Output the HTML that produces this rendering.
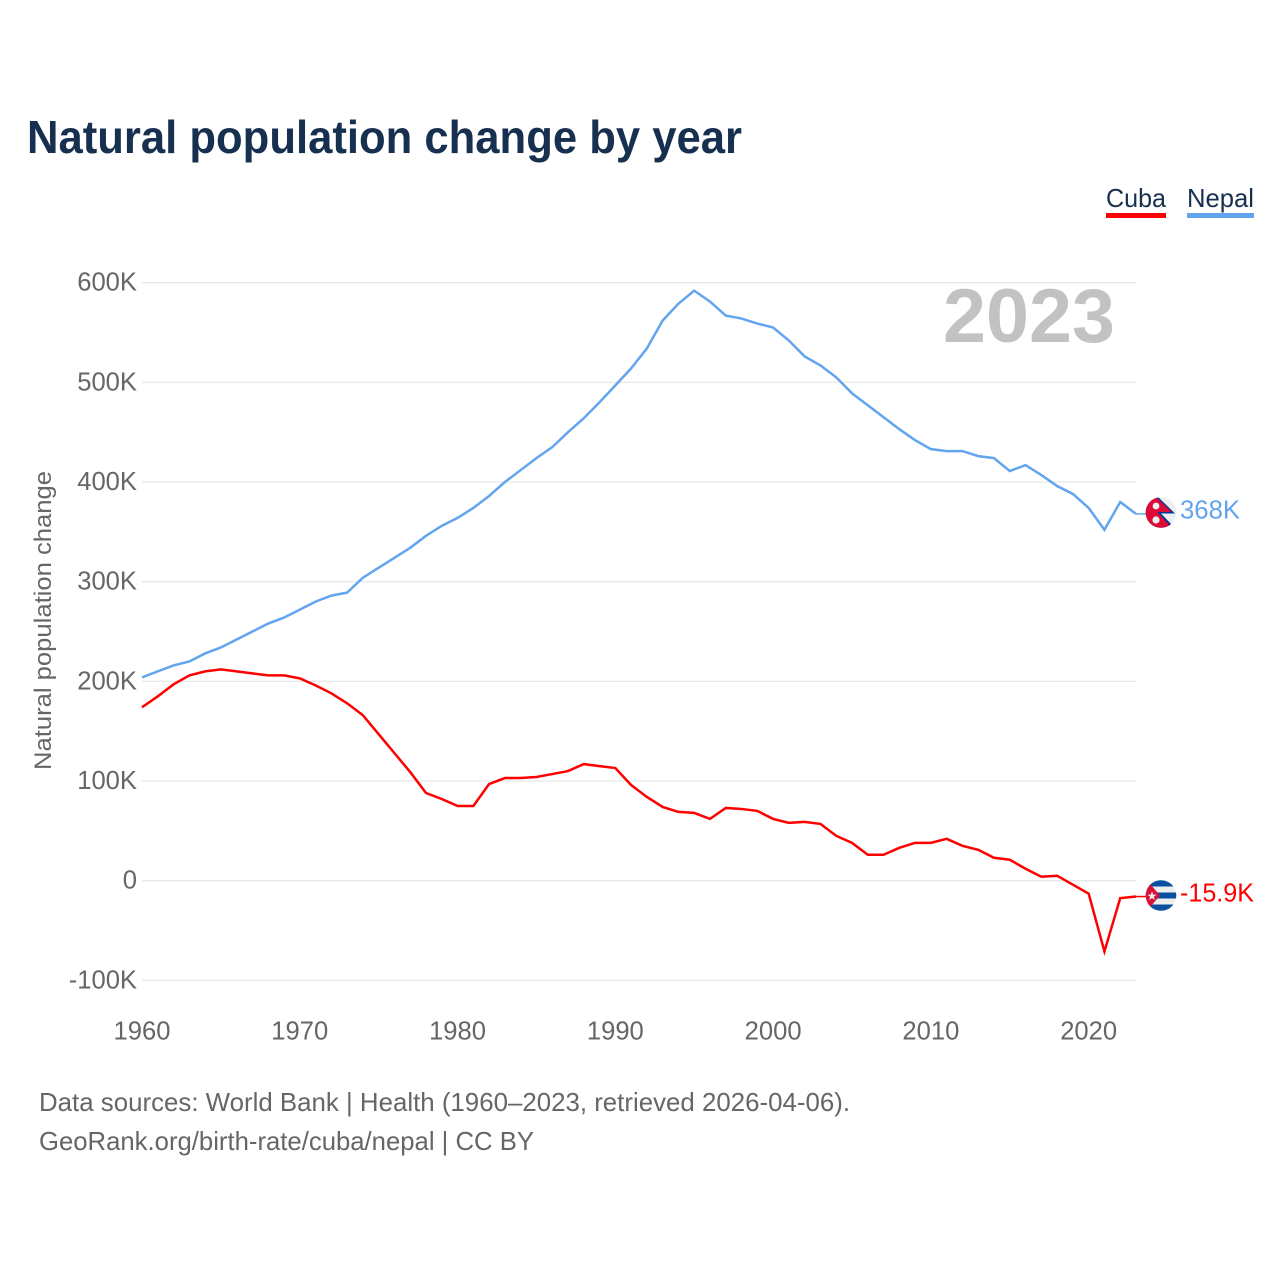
<!DOCTYPE html>
<html lang="en">
<head>
<meta charset="utf-8">
<title>Natural population change by year</title>
<style>
html,body{margin:0;padding:0;background:#fff;width:1280px;height:1280px;overflow:hidden}
svg{display:block;font-family:"Liberation Sans",Arial,sans-serif}
</style>
</head>
<body>
<svg id="chart" width="1280" height="1280" viewBox="0 0 1280 1280" xmlns="http://www.w3.org/2000/svg">
  <rect width="1280" height="1280" fill="#fff"/>
  <text x="27" y="153" font-size="46" font-weight="700" fill="#17304f" textLength="715" lengthAdjust="spacingAndGlyphs">Natural population change by year</text>
  <g id="grid"></g>
  <g id="yticks"></g>
  <g id="xticks"></g>
  <text transform="translate(51,770) rotate(-90)" font-size="24" fill="#666" textLength="299" lengthAdjust="spacingAndGlyphs">Natural population change</text>
  <text x="1115" y="342" text-anchor="end" font-size="76" font-weight="700" fill="#c2c2c2" textLength="172" lengthAdjust="spacingAndGlyphs">2023</text>
  <g id="series"></g>

  <g>
    <g>
      <text x="1106" y="207" font-size="26" fill="#17304f" textLength="60" lengthAdjust="spacingAndGlyphs">Cuba</text>
      <rect x="1106" y="213" width="60" height="5" fill="#ff0000"/>
    </g>
    <g>
      <text x="1187" y="207" font-size="26" fill="#17304f" textLength="67" lengthAdjust="spacingAndGlyphs">Nepal</text>
      <rect x="1187" y="213" width="67" height="5" fill="#62a5ee"/>
    </g>
  </g>

  <defs>
    <clipPath id="flagClipNepal"><circle cx="1161" cy="512.5" r="15.3"/></clipPath>
    <clipPath id="flagClipCuba"><circle cx="1161" cy="895.5" r="15.3"/></clipPath>
  </defs>
  <g clip-path="url(#flagClipNepal)">
    <rect x="1145" y="496" width="32" height="33" fill="#eeeeee"/>
    <polygon points="1145,496 1157,496 1175,513.5 1161,513.5 1174,527 1170,530 1145,530" fill="#003893"/>
    <polygon points="1145,496 1155,496 1171.5,512 1157.5,512 1171,527 1168,530 1145,530" fill="#dc0a34"/>
    <circle cx="1156" cy="506" r="3.4" fill="#eee"/>
    <circle cx="1156" cy="520" r="3.6" fill="#eee"/>
  </g>
  <text x="1180" y="518.5" font-size="26" fill="#62a5ee" textLength="60" lengthAdjust="spacingAndGlyphs">368K</text>

  <g clip-path="url(#flagClipCuba)">
    <rect x="1145" y="880" width="32" height="32" fill="#eeeeee"/>
    <rect x="1145" y="880" width="32" height="6.5" fill="#0a50a1"/>
    <rect x="1145" y="892.5" width="32" height="6" fill="#0a50a1"/>
    <rect x="1145" y="904.5" width="32" height="7" fill="#0a50a1"/>
    <polygon points="1145,878 1160,895.5 1145,913" fill="#d80f36"/>
    <text x="1152" y="900" font-size="12" text-anchor="middle" fill="#eee">★</text>
  </g>
  <text x="1180" y="901.5" font-size="26" fill="#ff0000" textLength="74" lengthAdjust="spacingAndGlyphs">-15.9K</text>

  <text x="39" y="1111" font-size="26" fill="#666" textLength="811" lengthAdjust="spacingAndGlyphs">Data sources: World Bank | Health (1960–2023, retrieved 2026-04-06).</text>
  <a><text x="39" y="1150" font-size="26" fill="#666" textLength="495" lengthAdjust="spacingAndGlyphs">GeoRank.org/birth-rate/cuba/nepal | CC BY</text></a>
</svg>
<script>
const startYear = 1960;
const yTickValues = [-100, 0, 100, 200, 300, 400, 500, 600];
const yTickLabels = ["-100K", "0", "100K", "200K", "300K", "400K", "500K", "600K"];
const xTickYears = [1960, 1970, 1980, 1990, 2000, 2010, 2020];
const nepalValues = [204,210,216,220,228,234,242,250,258,264,272,280,286,289,304,314,324,334,346,356,364,374,386,400,412,424,435,450,464,480,497,514,534,562,579,592,581,567,564,559,555,542,526,517,505,489,477,465,453,442,433,431,431,426,424,411,417,407,396,388,374,352,380,368];
const cubaValues = [174,185,197,206,210,212,210,208,206,206,203,196,188,178,166,147,128,109,88,82,75,75,97,103,103,104,107,110,117,115,113,96,84,74,69,68,62,73,72,70,62,58,59,57,45,38,26,26,33,38,38,42,35,31,23,21,12,4,5,-4,-13,-71,-17.5,-15.9];

const SVG_NS = 'http://www.w3.org/2000/svg';
const xScale = function (year) { return 142 + (year - 1960) * (1136 - 142) / 63; };
const yScale = function (value) { return 880.7 - value * 0.9967; };

const make = function (tag, parent) {
  const el = document.createElementNS(SVG_NS, tag);
  parent.appendChild(el);
  return el;
};

const gridGroup = document.getElementById('grid');
const yGroup = document.getElementById('yticks');
const xGroup = document.getElementById('xticks');
const seriesGroup = document.getElementById('series');

yTickValues.forEach(function (value, i) {
  const line = make('line', gridGroup);
  
  
  line.setAttribute('x1', 142);
  line.setAttribute('x2', 1136);
  line.setAttribute('y1', yScale(value));
  line.setAttribute('y2', yScale(value));
  line.setAttribute('stroke', '#e8e8e8');
  line.setAttribute('stroke-width', 1.3);

  const label = make('text', yGroup);
  
  
  label.setAttribute('x', 137);
  label.setAttribute('y', yScale(value) + 8);
  label.setAttribute('text-anchor', 'end');
  label.setAttribute('font-size', 25.6);
  label.setAttribute('fill', '#666');
  label.textContent = yTickLabels[i];
});

xTickYears.forEach(function (year) {
  const label = make('text', xGroup);
  
  
  label.setAttribute('x', xScale(year));
  label.setAttribute('y', 1039.5);
  label.setAttribute('text-anchor', 'middle');
  label.setAttribute('font-size', 25.6);
  label.setAttribute('fill', '#666');
  label.textContent = String(year);
});

const drawSeries = function (values, color) {
  const pts = values.map(function (v, i) {
    return xScale(startYear + i).toFixed(2) + ',' + yScale(v).toFixed(2);
  });
  const path = make('polyline', seriesGroup);
  path.setAttribute('points', pts.join(' '));
  path.setAttribute('fill', 'none');
  path.setAttribute('stroke', color);
  path.setAttribute('stroke-width', 2.5);
  path.setAttribute('stroke-linejoin', 'miter');
  return path;
};

const drawLeader = function (values, color) {
  const y = yScale(values[values.length - 1]);
  const leader = make('line', seriesGroup);
  leader.setAttribute('x1', 1136);
  leader.setAttribute('x2', 1147);
  leader.setAttribute('y1', y);
  leader.setAttribute('y2', y);
  leader.setAttribute('stroke', color);
  leader.setAttribute('stroke-width', 1.5);
  return leader;
};

const nepalLine = drawSeries(nepalValues, '#62a5ee');


const cubaLine = drawSeries(cubaValues, '#ff0000');


const nepalLeader = drawLeader(nepalValues, '#62a5ee');


const cubaLeader = drawLeader(cubaValues, '#ff0000');


</script>
</body>
</html>
